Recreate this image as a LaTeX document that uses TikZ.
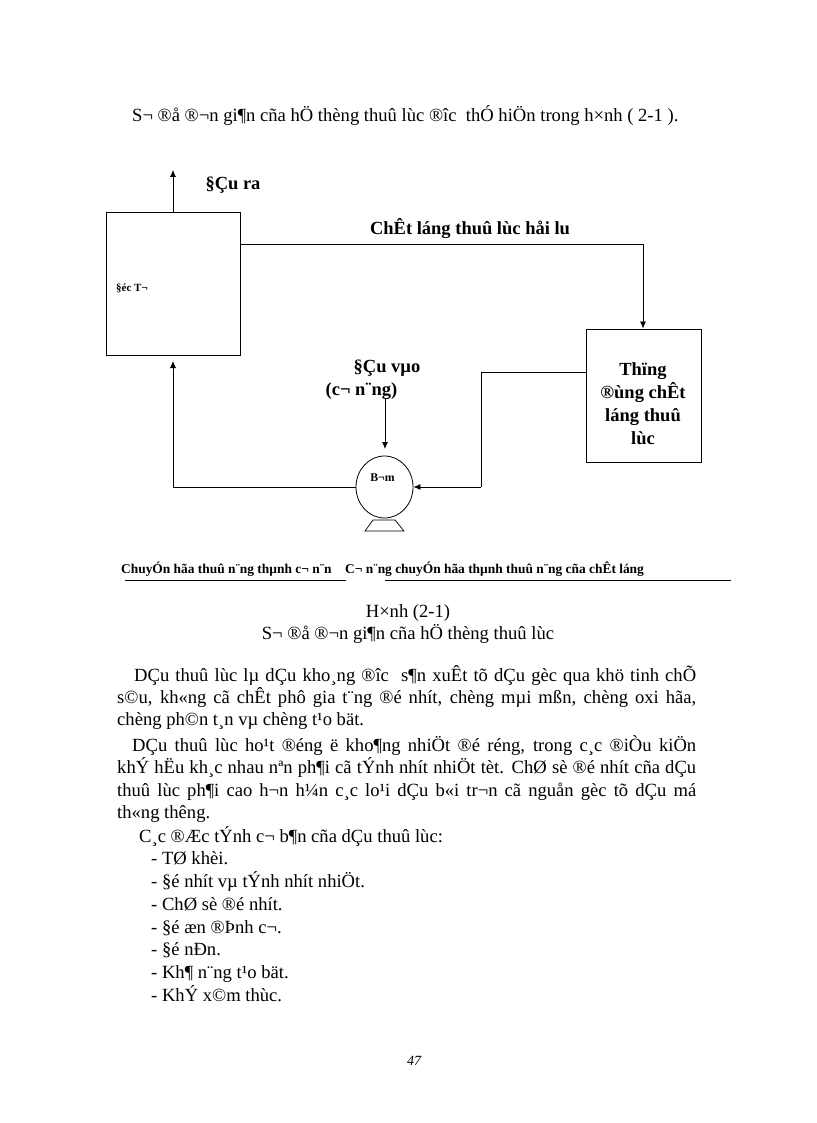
\documentclass[tikz,border=0pt]{standalone}
\usepackage{fontspec}
\setmainfont{Liberation Serif}
\usetikzlibrary{arrows.meta,shapes.geometric}
\tikzset{
    block/.style={draw, line width=0.9pt, inner sep=0pt},
    flow/.style={line width=0.8pt, -{Latex[length=7pt,width=6pt]}},
    pipe/.style={line width=0.9pt},
    body/.style={anchor=base west, inner sep=0pt, font=\fontsize{18.6}{20}\selectfont},
    bold/.style={anchor=base, inner sep=0pt, font=\fontsize{18.5}{20}\selectfont\bfseries},
    tiny/.style={anchor=base west, inner sep=0pt, font=\fontsize{13.4}{14}\selectfont\bfseries}
}
\begin{document}
\begin{tikzpicture}[x=1pt,y=-1pt]
    \useasboundingbox (0,0) rectangle (816,1123);
    \fill[white] (0,0) rectangle (816,1123);

    \node[body] (intro) at (132,122) {S¬ ®å ®¬n gi¶n cña hÖ thèng thuû lùc ®îc\ \ thÓ hiÖn trong h×nh ( 2-1 ).};

    % boxes
    \node[block, minimum width=134pt, minimum height=143pt] (motor) at (173.5,284) {};
    \node[block, minimum width=115pt, minimum height=133pt] (tank) at (644,395.5) {};
    \node[draw, ellipse, line width=0.8pt, minimum width=57pt, minimum height=62pt, inner sep=0pt] (pump) at (384.5,487) {};
    \draw[line width=0.7pt] (373,520) -- (395,520) -- (404,531) -- (365,531) -- cycle;

    % labels
    \node[tiny, font=\fontsize{11}{12}\selectfont\bfseries] (motorlabel) at (116,291) {§éc T¬};
    \node[tiny, anchor=base, font=\fontsize{11.8}{12}\selectfont\bfseries] (pumplabel) at (382.5,481) {B¬m};
    \node[bold] (out) at (233,190) {§Çu ra};
    \node[bold] (returnlabel) at (470,235) {ChÊt láng thuû lùc håi lu};
    \node[bold] (in) at (387,372) {§Çu vµo};
    \node[bold] (inb) at (361.5,395) {(c¬ n¨ng)};
    \node[bold] (t1) at (643,375) {Thïng};
    \node[bold] (t2) at (643,398) {®ùng chÊt};
    \node[bold] (t3) at (643,421) {láng thuû};
    \node[bold] (t4) at (643,444) {lùc};

    % connectors
    \coordinate (outtip) at (173,170);
    \coordinate (backcorner) at (173,487);
    \coordinate (backtip) at (173,361);
    \coordinate (tankcorner) at (643,244);
    \coordinate (suctiontop) at (481,372);
    \coordinate (suctionbot) at (481,487);
    \coordinate (intail) at (385,398);
    \coordinate (intip) at (385,449);
    \draw[flow] (motor.north -| outtip) -- (outtip);
    \draw[pipe] (motor.east |- tankcorner) -- (tankcorner);
    \draw[flow] (tankcorner) -- (tank.north -| tankcorner);
    \draw[pipe] (tank.west |- suctiontop) -- (suctiontop) -- (suctionbot);
    \draw[flow] (suctionbot) -- (pump.east);
    \draw[pipe] (pump.west) -- (backcorner);
    \draw[flow] (backcorner) -- (backtip);
    \draw[flow] (intail) -- (intip);

    % underlined notes
    \node[tiny] (noteleft) at (121,573) {ChuyÓn hãa thuû n¨ng thµnh c¬ n¨n};
    \node[tiny] (noteright) at (345,573) {C¬ n¨ng chuyÓn hãa thµnh thuû n¨ng cña chÊt láng};
    \coordinate (ulA) at (125,580);
    \coordinate (ulB) at (346,580);
    \coordinate (ulC) at (385,580);
    \coordinate (ulD) at (731,580);
    \draw[pipe] (ulA) -- (ulB);
    \draw[pipe] (ulC) -- (ulD);

    % caption
    \node[body, anchor=base] (captiona) at (408,617) {H×nh (2-1)};
    \node[body, anchor=base] (captionb) at (408,639) {S¬ ®å ®¬n gi¶n cña hÖ thèng thuû lùc};

    % text
    \node[body] (p1) at (134,681) {\makebox[562pt][s]{DÇu thuû lùc lµ dÇu kho¸ng ®îc\ \ s¶n xuÊt tõ dÇu gèc qua khö tinh chÕ}};
    \node[body] (p2) at (117,703) {\makebox[579pt][s]{s©u, kh«ng cã chÊt phô gia t¨ng ®é nhít, chèng mµi mßn, chèng oxi hãa,}};
    \node[body] (p3) at (117,725) {chèng ph©n t¸n vµ chèng t¹o bät.};
    \node[body] (p4) at (132,751) {\makebox[564pt][s]{DÇu thuû lùc ho¹t ®éng ë kho¶ng nhiÖt ®é réng, trong c¸c ®iÒu kiÖn}};
    \node[body] (p5) at (117,773) {\makebox[579pt][s]{khÝ hËu kh¸c nhau nªn ph¶i cã tÝnh nhít nhiÖt tèt. ChØ sè ®é nhít cña dÇu}};
    \node[body] (p6) at (117,796) {\makebox[579pt][s]{thuû lùc ph¶i cao h¬n h¼n c¸c lo¹i dÇu b«i tr¬n cã nguån gèc tõ dÇu má}};
    \node[body] (p7) at (117,818) {th«ng thêng.};
    \node[body] (p8) at (139,842) {C¸c ®Æc tÝnh c¬ b¶n cña dÇu thuû lùc:};
    \node[body] (l1) at (151,864) {- TØ khèi.};
    \node[body] (l2) at (151,887) {- §é nhít vµ tÝnh nhít nhiÖt.};
    \node[body] (l3) at (151,910) {- ChØ sè ®é nhít.};
    \node[body] (l4) at (151,933) {- §é æn ®Þnh c¬.};
    \node[body] (l5) at (151,955) {- §é nÐn.};
    \node[body] (l6) at (151,978) {- Kh¶ n¨ng t¹o bät.};
    \node[body] (l7) at (151,1001) {- KhÝ x©m thùc.};
    \node[body, font=\fontsize{14}{15}\selectfont\itshape] (pageno) at (407,1065) {47};
\end{tikzpicture}
\end{document}
